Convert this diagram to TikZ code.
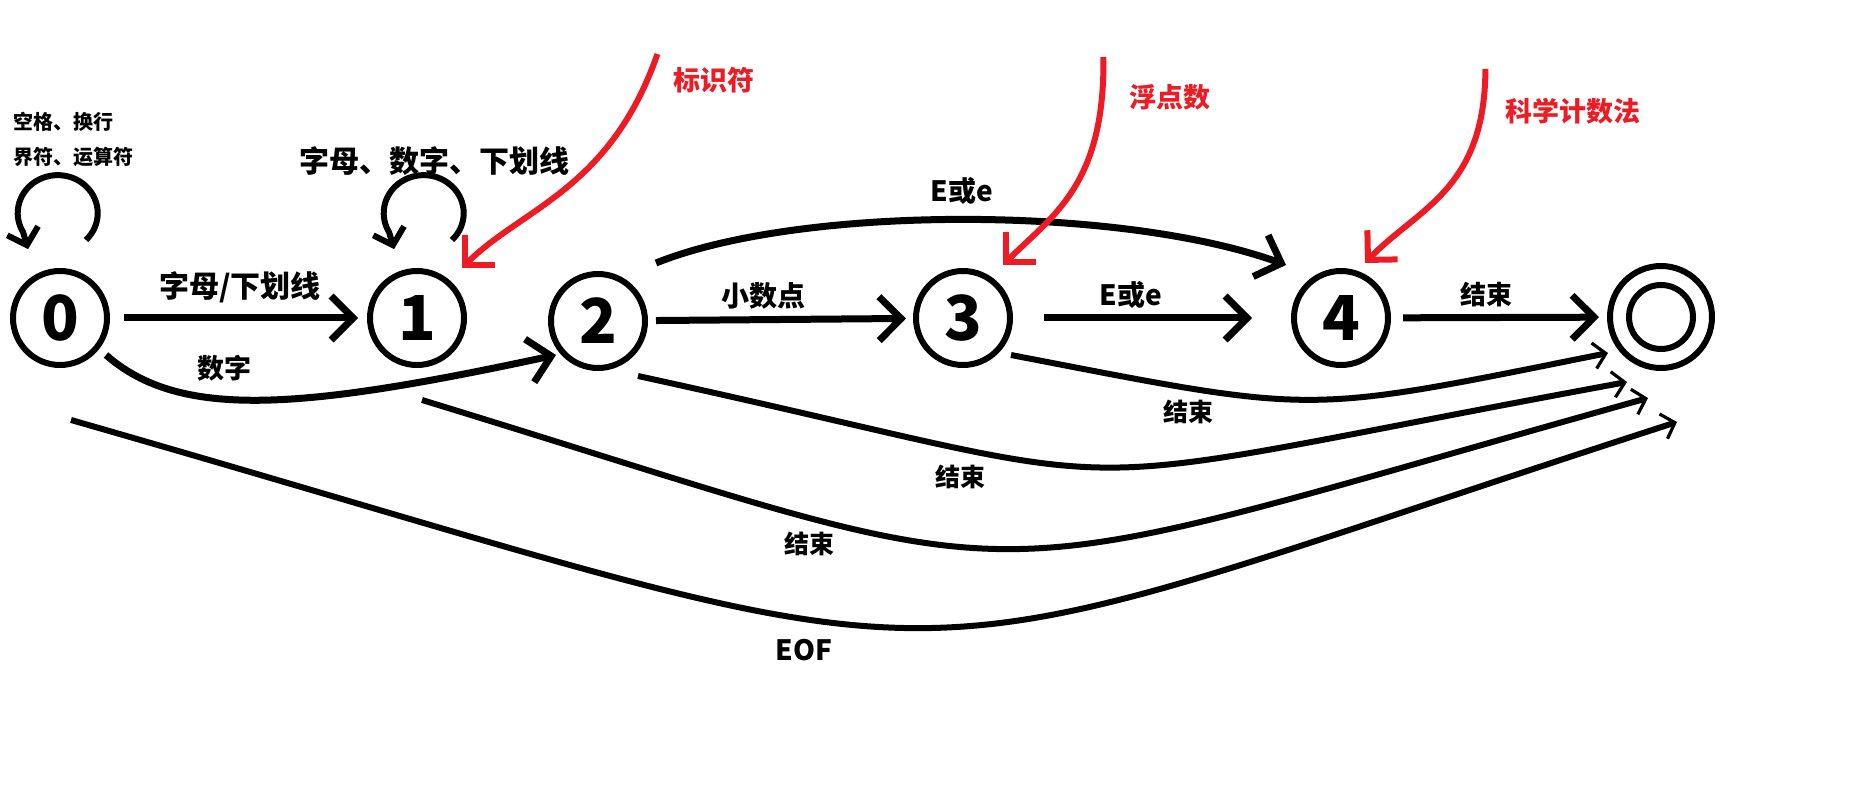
\documentclass[tikz,border=0pt]{standalone}
\usepackage{fontspec}
\setmainfont{Noto Sans CJK SC}
\usetikzlibrary{arrows.meta,calc}
\definecolor{hlred}{HTML}{ED1C24}

\begin{document}
\begin{tikzpicture}[x=0.5pt, y=-0.5pt,
    state/.style={circle, draw, line width=3pt, minimum size=47pt, inner sep=0pt,
      font=\bfseries\fontsize{31}{31}\selectfont},
    lbl/.style={font=\bfseries\fontsize{14}{14}\selectfont},
    tiny/.style={font=\bfseries\fontsize{10}{10}\selectfont, anchor=west},
    note/.style={text=hlred, font=\bfseries\fontsize{13.5}{13.5}\selectfont},
    arr/.style={line width=3.5pt, -{Straight Barb[length=11pt,width=22pt]}},
    looparr/.style={line width=3pt, -{Straight Barb[length=7.5pt,width=16pt]}},
    endarr/.style={line width=3pt, -{Straight Barb[length=6pt,width=13pt,line width=1.6pt]}},
    redarr/.style={hlred, line width=3pt, -{Straight Barb[length=10.5pt,width=21pt]}}]
  \useasboundingbox (0,0) rectangle (1854,791);

  \node[state] (s0) at (60,318) {0};
  \node[state] (s1) at (417,318) {1};
  \node[state] (s2) at (598,321) {2};
  \node[state] (s3) at (963,318) {3};
  \node[state] (s4) at (1341,318) {4};
  \node[state, minimum size=51pt] (fin) at (1661,317) {};
  \draw[line width=3pt] (fin.center) circle[radius=16pt];

  % self loops
  \coordinate (lp0) at (86,240);
  \coordinate (lp1) at (452,240);
  \draw[looparr] (lp0) arc[start angle=45, end angle=-210, x radius=40, y radius=38] -- ++(5,17);
  \draw[looparr] (lp1) arc[start angle=45, end angle=-210, x radius=40, y radius=38] -- ++(5,17);
  \node[tiny] (c0a) at (6,122) {空格、换行};
  \node[tiny] (c0b) at (6,157) {界符、运算符};
  \node[lbl, font=\bfseries\fontsize{15}{15}\selectfont] (c1) at (434,161) {字母、数字、下划线};

  % straight moves
  \draw[arr, shorten <=7pt, shorten >=4.5pt] (s0) -- (s1);
  \draw[arr, shorten <=4pt, shorten >=3.5pt] (s2) -- (s3);
  \draw[arr, shorten <=15.5pt, shorten >=19.5pt] (s3) -- (s4);
  \draw[arr, shorten <=6pt, shorten >=4pt] (s4) -- (fin);
  \node[lbl, font=\bfseries\fontsize{15}{15}\selectfont] (l01) at (240,287) {字母/下划线};
  \node[lbl] (l23) at (763,296) {小数点};
  \node[lbl] (l34) at (1131,295) {E或e};
  \node[lbl, font=\bfseries\fontsize{13}{13}\selectfont] (l4f) at (1486,295) {结束};

  % curved moves
  \draw[arr] ($(s0)+(46,37)$) .. controls (180,420) and (300,410) .. ($(s2)+(-42,34)$);
  \draw[arr] ($(s2)+(58,-58)$) .. controls (800,205) and (1120,205) .. ($(s4)+(-55,-53)$);
  \node[lbl, font=\bfseries\fontsize{13.5}{13.5}\selectfont] (l02) at (224,368) {数字};
  \node[lbl] (l24) at (962,191) {E或e};

  \draw[endarr] ($(s3)+(48,37)$) .. controls (1322,415) and (1299,415) .. ($(fin)+(-53,36)$);
  \draw[endarr] ($(s2)+(40,55)$) .. controls (1193,497) and (1001,497) .. ($(fin)+(-34,65)$);
  \draw[endarr] ($(s1)+(5,82)$) .. controls (1073,599) and (928,599) .. ($(fin)+(-13,81)$);
  \draw[endarr] ($(s0)+(11,102)$) .. controls (1037,697) and (825,697) .. ($(fin)+(16,105)$);
  \node[lbl, font=\bfseries\fontsize{12.5}{12.5}\selectfont] (e3) at (1188,412) {结束};
  \node[lbl, font=\bfseries\fontsize{12.5}{12.5}\selectfont] (e2) at (960,477) {结束};
  \node[lbl, font=\bfseries\fontsize{12.5}{12.5}\selectfont] (e1) at (809,544) {结束};
  \node[lbl] (eof) at (804,650) {EOF};

  % red notes
  \node[note] (n1) at (714,80) {标识符};
  \node[note] (n3) at (1170,97) {浮点数};
  \node[note] (n4) at (1573,111) {科学计数法};
  \draw[redarr] ($(n1.north west)+(-9,-6)$) .. controls (610,190) and (522,208) .. ($(s1)+(45,-50)$);
  \draw[redarr] ($(n3.north west)+(-19,-20)$) .. controls (1105,185) and (1053,215) .. ($(s3)+(40,-53)$);
  \draw[redarr] ($(n4.north west)+(-13,-22)$) .. controls (1485,190) and (1418,208) .. ($(s4)+(24,-55)$);
\end{tikzpicture}
\end{document}
